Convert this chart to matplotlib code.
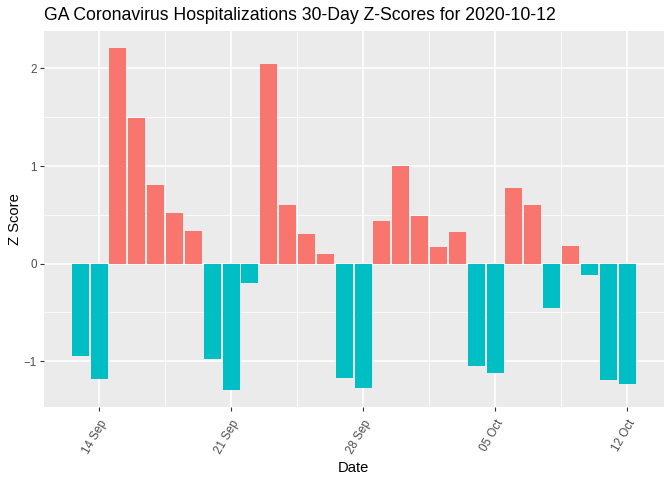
import matplotlib
matplotlib.use("Agg")
import matplotlib.pyplot as plt
import matplotlib.dates as mdates
import numpy as np
import datetime as dt

start_date = dt.date(2020, 9, 13)
z_scores = [-0.95, -1.18, 2.21, 1.49, 0.81, 0.52, 0.33,
            -0.98, -1.29, -0.20, 2.05, 0.60, 0.30, 0.10,
            -1.17, -1.27, 0.44, 1.00, 0.49, 0.17, 0.32,
            -1.05, -1.12, 0.78, 0.60, -0.45, 0.18, -0.12,
            -1.19, -1.23]
dates = [start_date + dt.timedelta(days=i) for i in range(len(z_scores))]
tick_dates = [dt.date(2020, 9, 14), dt.date(2020, 9, 21), dt.date(2020, 9, 28),
              dt.date(2020, 10, 5), dt.date(2020, 10, 12)]
tick_labels = ["14 Sep", "21 Sep", "28 Sep", "05 Oct", "12 Oct"]
y_ticks = [-1, 0, 1, 2]

POS = "#F8766D"
NEG = "#00BFC4"

plt.rcParams['font.family'] = ['Liberation Sans', 'DejaVu Sans']

fig = plt.figure(figsize=(6.72, 4.8), dpi=100)
ax = fig.add_axes([43.5/672, 1 - 406.6/480, (663.8-43.5)/672, (406.6-30.9)/480])
ax.set_facecolor("#EBEBEB")

x = mdates.date2num(dates)
colors = [POS if v > 0 else NEG for v in z_scores]
ax.bar(x, z_scores, width=0.9, color=colors, zorder=3)

# limits like ggplot expansion
lo = x.min() - 0.45
hi = x.max() + 0.45
pad = (hi - lo) * 0.05
ax.set_xlim(lo - pad, hi + pad)
ymin, ymax = min(min(z_scores), 0), max(z_scores)
ypad = (ymax - ymin) * 0.05
ax.set_ylim(ymin - ypad, ymax + ypad)

xt = mdates.date2num(tick_dates)
ax.set_xticks(xt)
ax.set_xticklabels(tick_labels, rotation=60, ha='right', va='top', rotation_mode='anchor')
minor_x = [(xt[i] + xt[i+1]) / 2 for i in range(len(xt) - 1)]
ax.set_xticks(minor_x, minor=True)
ax.set_yticks(y_ticks)
ax.set_yticklabels([str(v) if v >= 0 else "\u2212" + str(-v) for v in y_ticks])
ax.set_yticks([-0.5, 0.5, 1.5], minor=True)

ax.grid(which='major', color='white', linewidth=1.1, zorder=0)
ax.grid(which='minor', color='white', linewidth=0.55, zorder=0)
ax.set_axisbelow(True)

for s in ax.spines.values():
    s.set_visible(False)

ax.tick_params(axis='both', which='major', length=3, width=0.8, color='#333333',
               labelcolor='#4D4D4D', labelsize=8.4, pad=2)
ax.tick_params(axis='x', which='major', pad=5)
ax.tick_params(which='minor', length=0)

ax.set_xlabel("Date", fontsize=10.6, color='black', labelpad=4)
ax.set_ylabel("Z Score", fontsize=10.6, color='black', labelpad=1)
ax.set_title("GA Coronavirus Hospitalizations 30-Day Z-Scores for 2020-10-12",
             fontsize=12.7, loc='left', pad=8, color='black')

fig.savefig("out.png", dpi=100)
